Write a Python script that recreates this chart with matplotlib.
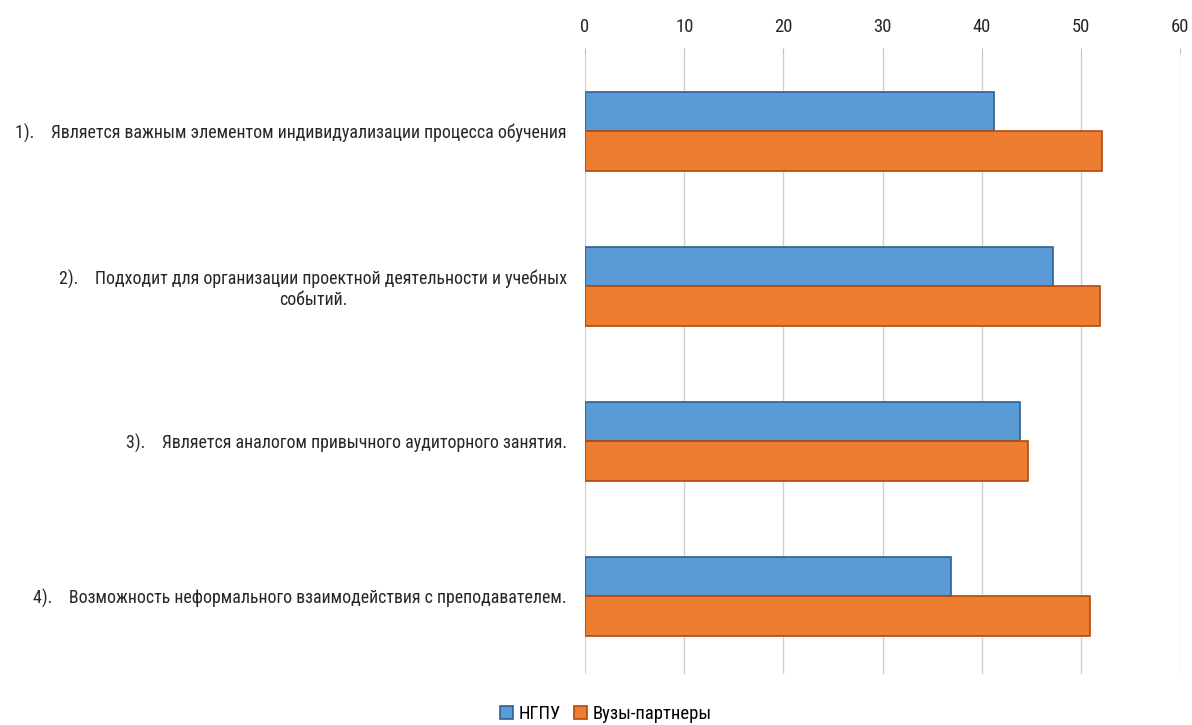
import numpy as np
import matplotlib.pyplot as plt
from matplotlib import font_manager as fm

installed = {f.name for f in fm.fontManager.ttflist}
family = 'DejaVu Sans'
for cand in ['Roboto Condensed', 'Liberation Sans Narrow', 'Open Sans Condensed',
             'DejaVu Sans Condensed', 'Liberation Sans']:
    if cand in installed:
        family = cand
        break
plt.rcParams['font.family'] = [family, 'DejaVu Sans']

categories = [
    '1).    Является важным элементом индивидуализации процесса обучения',
    '2).    Подходит для организации проектной деятельности и учебных\nсобытий.',
    '3).    Является аналогом привычного аудиторного занятия.',
    '4).    Возможность неформального взаимодействия с преподавателем.',
]
ngpu = [41.2, 47.2, 43.9, 36.9]
partners = [52.1, 51.9, 44.7, 50.9]
series_names = ['НГПУ', 'Вузы-партнеры']

fig = plt.figure(figsize=(11.92, 7.25), dpi=100)
ax = fig.add_axes([0.4908, 0.071, 0.4992, 0.855])

# fit label size so the longest label spans about as wide as in the reference
renderer = fig.canvas.get_renderer()
probe = fig.text(0, 0, categories[0], fontsize=14)
w = probe.get_window_extent(renderer).width
probe.remove()
fs = min(14.5, 14 * 556 / w)

y = np.arange(len(categories))
h = 0.255
ax.barh(y - h / 2, ngpu, height=h, color='#5B9BD5', edgecolor='#2E6194',
        linewidth=1.2, label=series_names[0], zorder=3)
ax.barh(y + h / 2, partners, height=h, color='#ED7D31', edgecolor='#B4470E',
        linewidth=1.2, label=series_names[1], zorder=3)

ax.set_xlim(0, 60)
ax.set_ylim(3.5, -0.5)
ax.set_xticks(np.arange(0, 61, 10))
ax.xaxis.tick_top()
ax.tick_params(axis='x', length=4, color='#BFBFBF', labelsize=fs + 0.5, pad=9,
               labelcolor='#262626')
ax.set_yticks(y)
ax.set_yticklabels(categories, fontsize=fs, color='#262626')
ax.tick_params(axis='y', length=0, pad=13)
for lbl in ax.get_yticklabels():
    lbl.set_multialignment('center')

ax.grid(axis='x', color='#D0D0D0', linewidth=1, zorder=0)
for s in ax.spines.values():
    s.set_visible(False)

fig.legend(loc='lower center', ncol=2, frameon=False, fontsize=fs + 0.5,
           bbox_to_anchor=(0.508, -0.02), handlelength=0.7, handleheight=0.7,
           handletextpad=0.3, columnspacing=0.7)

fig.savefig('out.png', dpi=100)
